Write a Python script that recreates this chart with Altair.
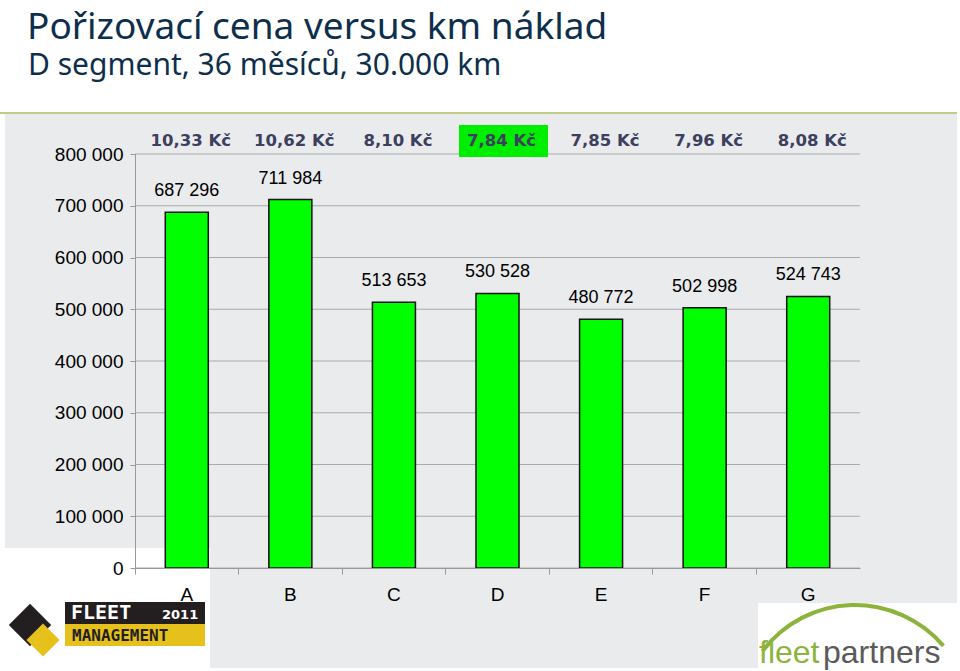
import altair as alt
import pandas as pd

# ---- data ----
categories = ["A", "B", "C", "D", "E", "F", "G"]
prices = [687296, 711984, 513653, 530528, 480772, 502998, 524743]
km_cost = [10.33, 10.62, 8.10, 7.84, 7.85, 7.96, 8.08]
y_ticks = [0, 100000, 200000, 300000, 400000, 500000, 600000, 700000, 800000]

title_text = "Pořizovací cena versus km náklad"
subtitle_text = "D segment, 36 měsíců, 30.000 km"

df = pd.DataFrame({"cat": categories, "price": prices, "cost": km_cost})
grid_df = pd.DataFrame({"v": y_ticks})
one = pd.DataFrame({"d": [0]})

X0, Y0 = 135, 154  # plot origin in page pixels
W, H = 725, 414

def px(v):
    return alt.value(v - X0)

def py(v):
    return alt.value(v - Y0)

GRAY = "#e9ebed"

xs = alt.Scale(domain=categories, paddingInner=0, paddingOuter=0)
ys = alt.Scale(domain=[0, 800000], nice=False, zero=True)

x_axis = alt.Axis(
    labelAngle=0, labelPadding=11, tickSize=6, labelFontSize=19,
    bandPosition=0, grid=False, zindex=1, title=None)
y_axis = alt.Axis(
    values=y_ticks, labelExpr="replace(format(datum.value, ',d'), ',', ' ')",
    labelPadding=7, tickSize=5, labelFontSize=19, grid=False, zindex=1, title=None)

X = alt.X("cat:N", scale=xs, axis=x_axis, title=None)

bg1 = alt.Chart(one).mark_rect(color=GRAY).encode(x=px(5), x2=px(957), y=py(113), y2=py(548))
bg2 = alt.Chart(one).mark_rect(color=GRAY).encode(x=px(210), x2=px(957), y=py(548), y2=py(668))
bg3 = alt.Chart(one).mark_rect(color="white").encode(x=px(758), x2=px(960), y=py(603), y2=py(671))
topline = alt.Chart(one).mark_rule(color="#bfcd82", strokeWidth=2).encode(x=px(0), x2=px(957), y=py(113))

title = alt.Chart(one).mark_text(
    text=title_text, align="left", baseline="alphabetic", font="Noto Sans",
    fontSize=37, color="#0e2f4b"
).encode(x=px(27), y=py(39))
subtitle = alt.Chart(one).mark_text(
    text=subtitle_text, align="left", baseline="alphabetic", font="Noto Sans",
    fontSize=30, color="#0e2f4b"
).encode(x=px(28), y=py(75))

grid = alt.Chart(grid_df).mark_rule(color="#a9abad", strokeWidth=1).encode(
    y=alt.Y("v:Q", scale=ys, axis=y_axis, title=None)
)

highlight = alt.Chart(df).transform_joinaggregate(
    mincost="min(cost)"
).transform_filter("datum.cost == datum.mincost").mark_bar(
    color="#00ee00", width=89, xOffset=6
).encode(
    x=X,
    y=py(125), y2=py(157)
)

bars = alt.Chart(df).mark_bar(
    color="#00ff00", stroke="#111111", strokeWidth=1.5, size=43
).encode(
    x=X,
    y=alt.Y("price:Q", scale=ys, axis=y_axis, title=None),
)

vlabels = alt.Chart(df).transform_calculate(
    lab="replace(format(datum.price, ',d'), ',', ' ')"
).mark_text(
    font="Liberation Sans", fontSize=18, color="black", baseline="middle", dy=-21
).encode(
    x=X,
    y=alt.Y("price:Q", scale=ys, axis=y_axis, title=None),
    text="lab:N",
)

clabels = alt.Chart(df).transform_calculate(
    lab="replace(format(datum.cost, '.2f'), '.', ',') + ' Kč'"
).mark_text(
    font="DejaVu Sans", fontWeight="bold", fontSize=16.5, color="#3d3f5e",
    baseline="middle", dx=4
).encode(
    x=X,
    y=py(141),
    text="lab:N",
)

# Fleet Management logo (approximation)
fm_black = alt.Chart(one).mark_rect(color="#231f20").encode(x=px(65), x2=px(205), y=py(602), y2=py(624))
fm_yellow = alt.Chart(one).mark_rect(color="#e6c01b").encode(x=px(65), x2=px(205), y=py(624), y2=py(646))
fm_t1 = alt.Chart(one).mark_text(text="FLEET", align="left", baseline="middle", font="DejaVu Sans Mono",
                                 fontWeight="bold", fontSize=20, color="white").encode(x=px(71), y=py(613))
fm_t2 = alt.Chart(one).mark_text(text="2011", align="left", baseline="middle", font="DejaVu Sans",
                                 fontWeight="bold", fontSize=13, color="white").encode(x=px(162), y=py(615))
fm_t3 = alt.Chart(one).mark_text(text="MANAGEMENT", align="left", baseline="middle", font="DejaVu Sans Mono",
                                 fontWeight="bold", fontSize=16, color="#231f20").encode(x=px(72), y=py(636))
fm_i1 = alt.Chart(one).mark_square(color="#231f20", size=900, angle=45, opacity=1).encode(x=px(30), y=py(625))
fm_i2 = alt.Chart(one).mark_square(color="#e6c01b", size=550, angle=45, opacity=1).encode(x=px(43), y=py(640))

# fleetpartners logo (approximation)
fp1 = alt.Chart(one).mark_text(text="fleet", align="left", baseline="alphabetic", font="Liberation Sans",
                               fontSize=32, color="#8cb43c").encode(x=px(759), y=py(663))
fp2 = alt.Chart(one).mark_text(text="partners", align="left", baseline="alphabetic", font="Liberation Sans",
                               fontSize=32, color="#5a5a5a").encode(x=px(823), y=py(663))
fp_arc = alt.Chart(one).mark_arc(color="#8cb43c", radius=118, radius2=114, theta=5.36, theta2=7.15).encode(
    x=px(855), y=py(721))

chart = alt.layer(
    bg1, bg2, bg3, topline, title, subtitle, grid, highlight, bars, vlabels, clabels,
    fm_black, fm_yellow, fm_t1, fm_t2, fm_t3, fm_i1, fm_i2, fp_arc, fp1, fp2
).properties(
    width=W, height=H,
    autosize=alt.AutoSizeParams(type="none"),
    padding={"left": X0, "top": Y0, "right": 960 - X0 - W, "bottom": 671 - Y0 - H},
    background="white",
).configure_view(stroke=None).configure_axis(
    labelFont="Liberation Sans", labelColor="black",
    domainColor="#999999", tickColor="#999999",
)

chart.save("out.html", embed_options={"renderer": "svg", "actions": False})
